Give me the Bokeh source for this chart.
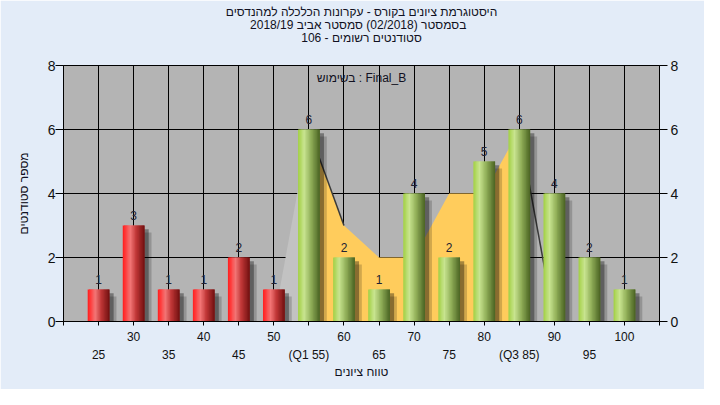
import numpy as np
from bokeh.plotting import figure
from bokeh.models import ColumnDataSource, FixedTicker, LinearAxis, Range1d, Title, Label
from bokeh.embed import file_html
from bokeh.resources import INLINE
from bokeh.core.properties import value

# ---------------- data ----------------
grades = [25, 30, 35, 40, 45, 50, 55, 60, 65, 70, 75, 80, 85, 90, 95, 100]
counts = [1, 3, 1, 1, 2, 1, 6, 2, 1, 4, 2, 5, 6, 4, 2, 1]
pass_grade = 55
upper_tick_labels = {30: "30", 40: "40", 50: "50", 60: "60", 70: "70", 80: "80", 90: "90", 100: "100"}
lower_tick_labels = {25: "25", 35: "35", 45: "45", 55: "(Q1 55)", 65: "65", 75: "75", 85: "(Q3 85)", 95: "95"}
y_ticks = [0, 2, 4, 6, 8]
band_x = [50, 55, 60, 65, 70, 75, 80, 85, 90]
band_y = [0, 6, 3, 2, 2, 4, 4, 6, 0]
title_lines = [
    "היסטוגרמת ציונים בקורס - עקרונות הכלכלה למהנדסים",
    "בסמסטר  (02/2018)  סמסטר אביב 2018/19",
    "סטודנטים רשומים - 106",
]
x_title = "טווח ציונים"
y_title = "מספר סטודנטים"
series_note = "בשימוש : Final_B"

FONT = "Liberation Sans"
x_lo, x_hi = 20, 105
y_lo, y_hi = 0, 8
bar_w = 3.1

p = figure(width=704, height=389, x_range=Range1d(x_lo, x_hi), y_range=Range1d(y_lo, y_hi),
           output_backend="svg", toolbar_location=None,
           min_border_left=63, min_border_right=45, min_border_top=65, min_border_bottom=68)
p.background_fill_color = "#b4b4b4"
p.border_fill_color = "#e3ecf8"
p.outline_line_color = "black"

# spacer next to the frame, then the title lines (last added is topmost)
p.add_layout(Title(text="\u00a0", text_font=FONT, text_font_size="18px", standoff=0), "above")
for line in reversed(title_lines):
    p.add_layout(Title(text=line, align="center", text_font=FONT, text_font_size="12px",
                       text_font_style="normal", text_color="#111122", offset=-9, standoff=-3), "above")

# grids
p.xgrid.ticker = FixedTicker(ticks=grades)
p.ygrid.ticker = FixedTicker(ticks=y_ticks)
for g in (p.xgrid, p.ygrid):
    g.grid_line_color = "black"
    g.grid_line_alpha = 1.0
    g.grid_line_width = 1

# background bands
p.varea(x=band_x[:2], y1=0, y2=band_y[:2], color="#c2c2c2")
p.varea(x=band_x[1:-1], y1=0, y2=band_y[1:-1], color="#ffcc5c")
p.line(band_x[1:3], band_y[1:3], line_color="#3a3a3a", line_width=1.5)
p.line(band_x[-2:], band_y[-2:], line_color="#3a3a3a", line_width=1.5)

g_arr = np.array(grades, dtype=float)
c_arr = np.array(counts, dtype=float)

# shadows
for off, drop, a in [(1.0, 0.22, 0.18), (0.6, 0.12, 0.35)]:
    p.vbar(x=g_arr + off, width=bar_w, top=c_arr - drop, bottom=0,
           fill_color="black", fill_alpha=a, line_color=None)

# gradient bars built from strips
def hex2rgb(h):
    h = h.lstrip("#")
    return np.array([int(h[i:i + 2], 16) for i in (0, 2, 4)], dtype=float)

red_stops = [(0.0, "#ff1c1c"), (0.12, "#ff3a3a"), (0.35, "#f27676"), (0.62, "#c03636"), (1.0, "#701010")]
green_stops = [(0.0, "#a2d044"), (0.28, "#c8e490"), (0.6, "#90ae58"), (1.0, "#4a6222")]

def interp(stops, t):
    for (t0, c0), (t1, c1) in zip(stops[:-1], stops[1:]):
        if t <= t1:
            f = (t - t0) / (t1 - t0)
            c = hex2rgb(c0) * (1 - f) + hex2rgb(c1) * f
            return "#%02x%02x%02x" % tuple(int(round(v)) for v in c)
    return stops[-1][1]

N = 16
xs, ws, tops, cols = [], [], [], []
for gr, ct in zip(grades, counts):
    stops = red_stops if gr < pass_grade else green_stops
    left = gr - bar_w / 2
    for i in range(N):
        t = (i + 0.5) / N
        a0 = left + i * bar_w / N
        a1 = min(left + (i + 2) * bar_w / N, left + bar_w)
        xs.append((a0 + a1) / 2)
        ws.append(a1 - a0)
        tops.append(ct)
        cols.append(interp(stops, t))
src = ColumnDataSource(dict(x=xs, w=ws, top=tops, color=cols))
p.vbar(x="x", top="top", bottom=0, width="w", fill_color="color", line_color=None, source=src)

# value labels
p.text(x=grades, y=counts, text=[str(c) for c in counts], text_align="center", text_baseline="bottom",
       y_offset=-6, text_font=value(FONT), text_font_size="12px", text_color="#222233")

p.add_layout(Label(x=(x_lo + x_hi) / 2, y=7.62, text=series_note, text_align="center",
                   text_baseline="middle", text_font=FONT, text_font_size="12px", text_color="#111122"))

# axes
ax = p.xaxis[0]
ax.ticker = FixedTicker(ticks=[x_lo] + grades + [x_hi])
ax.major_label_overrides = {k: upper_tick_labels.get(k, "") for k in [x_lo] + grades + [x_hi]}
ax.major_tick_out = 4
ax.major_tick_in = 0
ax.major_label_standoff = 6
ax.axis_line_color = "black"
ax.major_tick_line_color = "black"

ax2 = LinearAxis(ticker=FixedTicker(ticks=list(lower_tick_labels.keys())),
                 major_label_overrides=lower_tick_labels, major_tick_out=0, major_tick_in=0,
                 axis_line_color=None, major_tick_line_color=None, major_label_standoff=4,
                 axis_label=x_title, axis_label_standoff=0)
p.add_layout(ax2, "below")

ay = p.yaxis[0]
ay2 = LinearAxis()
p.add_layout(ay2, "right")
ay.axis_label = y_title
ay.axis_label_standoff = 14
for a in (ay, ay2):
    a.ticker = FixedTicker(ticks=y_ticks)
    a.major_tick_out = 8
    a.major_tick_in = 0
    a.major_label_text_font_size = "14px"
    a.axis_line_color = "black"
    a.major_tick_line_color = "black"
    a.minor_tick_line_color = None
ay.major_label_standoff = 0
ay2.major_label_standoff = 3

for a in (ax, ax2):
    a.major_label_text_font_size = "12px"
    a.minor_tick_line_color = None

for a in (ax, ax2, ay, ay2):
    a.major_label_text_font = FONT
    a.major_label_text_color = "#111111"
    a.axis_label_text_font = FONT
    a.axis_label_text_font_size = "12px"
    a.axis_label_text_font_style = "normal"
    a.axis_label_text_color = "#111122"

open("out.html", "w").write(file_html(p, INLINE))
